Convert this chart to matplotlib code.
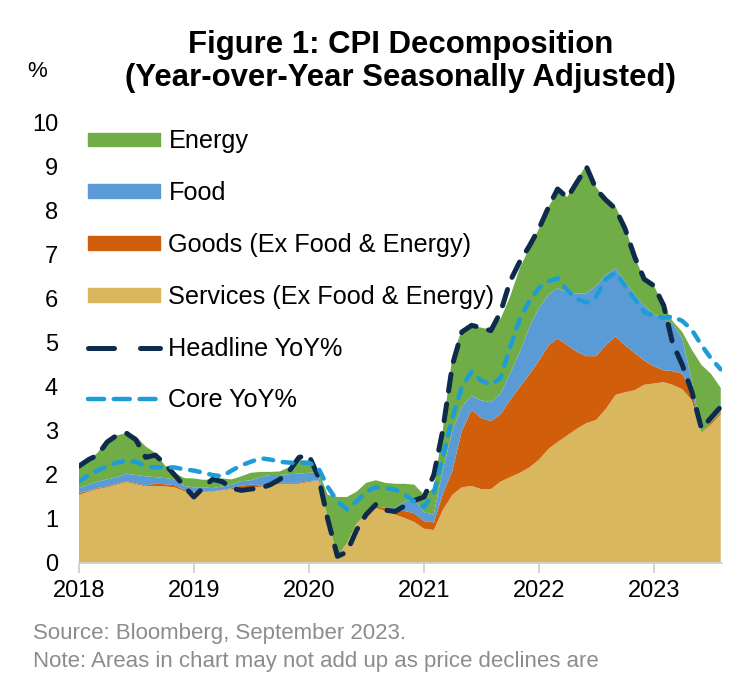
import numpy as np
import pandas as pd
import matplotlib
matplotlib.use("Agg")
import matplotlib.pyplot as plt
from matplotlib.patches import Patch
from matplotlib.lines import Line2D

plt.rcParams['font.family'] = ['Liberation Sans', 'DejaVu Sans']

# monthly, Jan 2018 - Aug 2023 (contributions in %-pts)
months = pd.date_range('2018-01-01', periods=68, freq='MS')

services = [1.55, 1.62, 1.68, 1.72, 1.78, 1.84, 1.79, 1.74, 1.75, 1.74, 1.72, 1.63,
            1.61, 1.61, 1.62, 1.65, 1.68, 1.70, 1.72, 1.73, 1.77, 1.80, 1.80, 1.80,
            1.84, 1.87, 1.00, 0.15, 0.45, 0.90, 1.10, 1.25, 1.18, 1.10, 1.02, 0.93,
            0.78, 0.75, 1.20, 1.55, 1.72, 1.75, 1.68, 1.68, 1.85, 1.95, 2.05, 2.17,
            2.35, 2.60, 2.75, 2.90, 3.05, 3.18, 3.25, 3.50, 3.82, 3.88, 3.93, 4.05,
            4.08, 4.11, 4.05, 3.95, 3.70, 2.95, 3.15, 3.38]
goods = [0.04, 0.02, 0.02, 0.02, 0.02, 0.02, 0.02, 0.02, 0.05, 0.05, 0.05, 0.03,
         0.02, 0.01, 0.01, 0.01, 0.02, 0.06, 0.06, 0.03, 0.02, 0.02, 0.02, 0.02,
         0.02, 0.01, 0.00, 0.00, 0.00, 0.00, 0.00, 0.03, 0.07, 0.10, 0.16, 0.20,
         0.17, 0.17, 0.35, 0.55, 1.28, 1.73, 1.62, 1.54, 1.53, 1.75, 1.95, 2.11,
         2.25, 2.35, 2.35, 2.05, 1.75, 1.52, 1.45, 1.45, 1.33, 1.07, 0.84, 0.55,
         0.39, 0.27, 0.31, 0.35, 0.20, 0.00, 0.05, 0.04]
food = [0.11, 0.14, 0.15, 0.16, 0.15, 0.17, 0.19, 0.21, 0.15, 0.14, 0.13, 0.09,
        0.09, 0.10, 0.07, 0.08, 0.08, 0.10, 0.10, 0.19, 0.21, 0.18, 0.20, 0.21,
        0.19, 0.17, 0.00, 0.00, 0.00, 0.00, 0.00, 0.00, 0.00, 0.05, 0.22, 0.32,
        0.20, 0.18, 0.55, 0.90, 0.55, 0.32, 0.40, 0.43, 0.47, 0.60, 0.80, 1.07,
        1.20, 1.15, 1.15, 1.20, 1.32, 1.43, 1.60, 1.60, 1.55, 1.45, 1.33, 1.25,
        1.18, 1.17, 1.09, 0.80, 0.25, 0.00, 0.00, 0.00]
energy = [0.50, 0.57, 0.65, 0.90, 0.95, 0.92, 0.88, 0.68, 0.55, 0.29, 0.15, 0.18,
          0.20, 0.17, 0.20, 0.18, 0.12, 0.11, 0.17, 0.12, 0.07, 0.08, 0.16, 0.31,
          0.27, 0.05, 0.55, 1.35, 1.05, 0.72, 0.72, 0.60, 0.57, 0.55, 0.40, 0.33,
          0.40, 0.60, 0.90, 1.70, 1.75, 1.60, 1.65, 1.65, 1.70, 1.75, 1.90, 1.80,
          1.80, 2.00, 2.20, 2.17, 2.58, 2.92, 2.25, 1.70, 1.40, 1.25, 0.85, 0.60,
          0.65, 0.30, 0.05, 0.15, 0.70, 1.55, 1.10, 0.56]
headline = [2.20, 2.35, 2.45, 2.75, 2.90, 2.95, 2.80, 2.40, 2.45, 2.25, 2.00, 1.75,
            1.50, 1.72, 1.90, 1.85, 1.70, 1.65, 1.68, 1.70, 1.78, 1.90, 2.10, 2.40,
            2.45, 1.95, 1.00, 0.15, 0.25, 0.75, 1.10, 1.33, 1.20, 1.17, 1.30, 1.42,
            1.50, 2.00, 3.00, 4.50, 5.25, 5.40, 5.35, 5.28, 5.70, 6.40, 6.85, 7.20,
            7.60, 8.10, 8.50, 8.30, 8.65, 9.00, 8.50, 8.25, 8.05, 7.60, 6.95, 6.45,
            6.30, 5.85, 5.00, 4.50, 3.90, 3.05, 3.30, 3.55]
core = [1.85, 2.00, 2.10, 2.20, 2.28, 2.32, 2.30, 2.20, 2.17, 2.18, 2.17, 2.13,
        2.10, 2.05, 2.00, 1.97, 2.10, 2.22, 2.30, 2.38, 2.35, 2.30, 2.28, 2.27,
        2.28, 2.15, 1.73, 1.40, 1.22, 1.40, 1.62, 1.72, 1.70, 1.67, 1.55, 1.40,
        1.27, 1.60, 2.40, 3.30, 4.00, 4.35, 4.15, 4.05, 4.20, 4.90, 5.55, 5.95,
        6.25, 6.40, 6.47, 6.20, 6.00, 5.92, 6.05, 6.45, 6.60, 6.30, 6.00, 5.70,
        5.62, 5.57, 5.60, 5.50, 5.30, 4.95, 4.65, 4.40]

labels = ['Energy', 'Food', 'Goods (Ex Food & Energy)', 'Services (Ex Food & Energy)',
          'Headline YoY%', 'Core YoY%']
c_energy, c_food, c_goods, c_serv = '#70AD47', '#5B9BD5', '#D05E0A', '#D9B75E'
c_head, c_core = '#0E2B4C', '#1D9CD8'

fig = plt.figure(figsize=(7.44, 6.99), dpi=100)
ax = fig.add_axes([0.106, 0.1946, 0.864, 0.6295])

ax.stackplot(months, services, goods, food, energy,
             colors=[c_serv, c_goods, c_food, c_energy], linewidth=0)
ax.plot(months, headline, color=c_head, lw=3.6, dashes=(3.4, 2.6),
        dash_capstyle='round')
ax.plot(months, core, color=c_core, lw=3.2, dashes=(2.2, 2.2),
        dash_capstyle='round')

ax.set_xlim(months[0], months[-1] + pd.Timedelta(days=3))
ax.set_ylim(0, 10)
ax.set_yticks(range(0, 11))
years = pd.date_range('2018-01-01', '2023-01-01', freq='YS')
ax.set_xticks(years)
ax.set_xticklabels([str(y.year) for y in years])
ax.tick_params(axis='y', length=0, labelsize=17, pad=15)
ax.tick_params(axis='x', length=7, width=1.3, color='#D0D0D0', labelsize=17, pad=5)
for s in ['top', 'right', 'left']:
    ax.spines[s].set_visible(False)
ax.spines['bottom'].set_color('#D0D0D0')
ax.spines['bottom'].set_linewidth(1.3)

handles = [Patch(color=c_energy), Patch(color=c_food), Patch(color=c_goods),
           Patch(color=c_serv),
           Line2D([], [], color=c_head, lw=3.6, dashes=(5.2, 5.2), dash_capstyle='round'),
           Line2D([], [], color=c_core, lw=3.2, dashes=(3.6, 2.2), dash_capstyle='round')]
ax.legend(handles, labels, loc='upper left', bbox_to_anchor=(-0.009, 1.02),
          frameon=False, fontsize=18.2, handlelength=2.85, handleheight=0.45,
          handletextpad=0.32, labelspacing=1.1, borderaxespad=0.2)

fig.text(0.538, 0.936, 'Figure 1: CPI Decomposition', ha='center', va='center',
         fontsize=22.4, fontweight='bold')
fig.text(0.538, 0.889, '(Year-over-Year Seasonally Adjusted)', ha='center',
         va='center', fontsize=22.4, fontweight='bold')
fig.text(0.05, 0.898, '%', ha='center', va='center', fontsize=16)

note_font = ['Liberation Sans Narrow', 'Liberation Sans', 'DejaVu Sans']
fig.text(0.044, 0.094, 'Source: Bloomberg, September 2023.', color='#8C8C8C',
         fontsize=16, family=note_font, va='center')
fig.text(0.044, 0.054, 'Note: Areas in chart may not add up as price declines are',
         color='#8C8C8C', fontsize=16, family=note_font, va='center')

fig.savefig('out.png', dpi=100)
